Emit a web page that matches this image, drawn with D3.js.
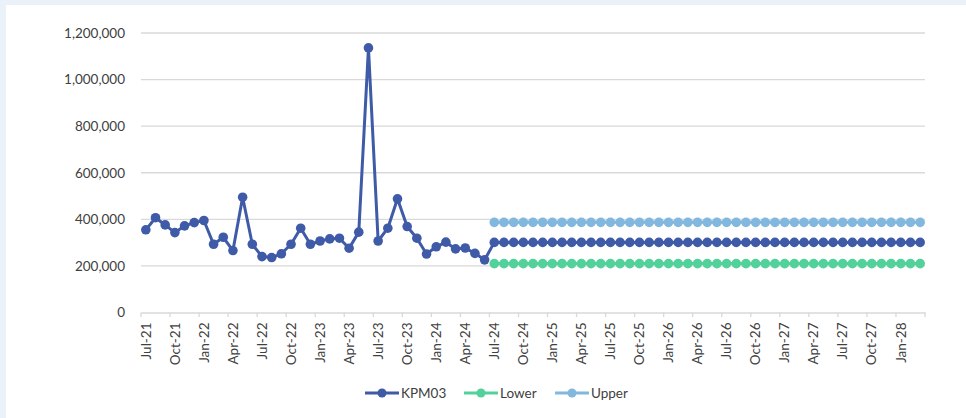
<!DOCTYPE html>
<html>
<head>
<meta charset="utf-8">
<script src="https://cdn.jsdelivr.net/npm/d3@7/dist/d3.min.js"></script>
<style>
  html, body { margin: 0; padding: 0; background: #eaf1f9; }
  svg { display: block; }
</style>
</head>
<body>
<svg id="chart" width="966" height="418"></svg>
<script>
// ---- Data ----
const months = ["Jan","Feb","Mar","Apr","May","Jun","Jul","Aug","Sep","Oct","Nov","Dec"];
// 81 monthly categories: Jul-21 .. Mar-28
const startYear = 2021, startMonth = 6, nCats = 81;
const categories = d3.range(nCats).map(i => {
  const m = (startMonth + i) % 12;
  const y = startYear + Math.floor((startMonth + i) / 12);
  return months[m] + "-" + String(y).slice(2);
});
const kpm03Actual = [355000, 407000, 376000, 343000, 372000, 386000, 395000, 293000, 323000, 266000,
  495000, 293000, 240000, 236000, 252000, 293000, 362000, 293000, 307000, 316000,
  319000, 276000, 345000, 1136000, 307000, 362000, 488000, 369000, 319000, 251000,
  282000, 302000, 273000, 277000, 254000, 226000];
const forecastLen = 45;
const kpm03Forecast = Array(forecastLen).fill(301000);
const lowerValues = Array(forecastLen).fill(210000);
const upperValues = Array(forecastLen).fill(387000);
const yTicks = [0, 200000, 400000, 600000, 800000, 1000000, 1200000];
const seriesNames = ["KPM03", "Lower", "Upper"];
const seriesColors = ["#3f5ba8", "#52d29a", "#82b8de"];

// ---- Layout ----
const svg = d3.select("#chart");
svg.append("rect").attr("x", 6).attr("y", 5).attr("width", 960).attr("height", 413).attr("fill", "#ffffff");

const plot = { left: 141, right: 925, top: 33, bottom: 312.5 };
const font = "Lato, 'Noto Sans', sans-serif";

const x = d3.scaleBand().domain(categories).range([plot.left, plot.right]).paddingInner(0).paddingOuter(0);
const cx = c => x(c) + x.bandwidth() / 2;
const y = d3.scaleLinear().domain([0, 1200000]).range([plot.bottom, plot.top]);

// gridlines
svg.append("g").selectAll("line").data(yTicks.filter(t => t > 0)).join("line")
  .attr("x1", plot.left).attr("x2", plot.right)
  .attr("y1", d => y(d)).attr("y2", d => y(d))
  .attr("stroke", "#d9d9d9").attr("stroke-width", 1.3);

// y axis labels
const yAxis = d3.axisLeft(y).tickValues(yTicks).tickSize(0).tickPadding(16)
  .tickFormat(d3.format(","));
const gy = svg.append("g").attr("transform", `translate(${plot.left},0)`).call(yAxis);
gy.select(".domain").remove();
gy.selectAll("text").attr("font-family", font).attr("font-size", 13.5).attr("fill", "#404040");

// x axis
const xAxis = d3.axisBottom(x).tickSize(0).tickFormat((d, i) => i % 3 === 0 ? d : "");
const gx = svg.append("g").attr("transform", `translate(0,${plot.bottom})`).call(xAxis);
gx.select(".domain").attr("stroke", "#d9d9d9").attr("stroke-width", 1.3);
gx.selectAll("text")
  .attr("font-family", font).attr("font-size", 13.5).attr("fill", "#404040")
  .attr("transform", "rotate(-90)")
  .attr("text-anchor", "end")
  .attr("x", -10).attr("y", 0).attr("dy", "0.35em");
// tick marks at category boundaries every 3 months
const tickCats = categories.filter((c, i) => i % 3 === 0);
gx.append("g").selectAll("line").data(tickCats.concat(["__end"])).join("line")
  .attr("x1", d => d === "__end" ? plot.right : x(d))
  .attr("x2", d => d === "__end" ? plot.right : x(d))
  .attr("y1", 0).attr("y2", 4.5)
  .attr("stroke", "#d9d9d9").attr("stroke-width", 1.3);

// series
const nA = kpm03Actual.length;
const kpmData = kpm03Actual.concat(kpm03Forecast).map((v, i) => ({ c: categories[i], v }));
const lowerData = lowerValues.map((v, i) => ({ c: categories[nA + i], v }));
const upperData = upperValues.map((v, i) => ({ c: categories[nA + i], v }));
const line = d3.line().x(d => cx(d.c)).y(d => y(d.v));

function drawSeries(data, color) {
  const g = svg.append("g");
  g.append("path").datum(data).attr("d", line).attr("fill", "none")
    .attr("stroke", color).attr("stroke-width", 3).attr("stroke-linejoin", "round");
  g.selectAll("circle").data(data).join("circle")
    .attr("cx", d => cx(d.c)).attr("cy", d => y(d.v)).attr("r", 4.8).attr("fill", color);
}
drawSeries(upperData, seriesColors[2]);
drawSeries(lowerData, seriesColors[1]);
drawSeries(kpmData, seriesColors[0]);

// legend
const legendItems = [
  { name: seriesNames[0], color: seriesColors[0], x: 365 },
  { name: seriesNames[1], color: seriesColors[1], x: 464 },
  { name: seriesNames[2], color: seriesColors[2], x: 555 }
];
const lg = svg.append("g");
const ly = 393;
legendItems.forEach(it => {
  lg.append("line").attr("x1", it.x).attr("x2", it.x + 34).attr("y1", ly).attr("y2", ly)
    .attr("stroke", it.color).attr("stroke-width", 3);
  lg.append("circle").attr("cx", it.x + 17).attr("cy", ly).attr("r", 4.5).attr("fill", it.color);
  lg.append("text").attr("x", it.x + 36).attr("y", ly).attr("dy", "0.35em")
    .attr("font-family", font).attr("font-size", 13.5).attr("fill", "#404040").text(it.name);
});
</script>
</body>
</html>
